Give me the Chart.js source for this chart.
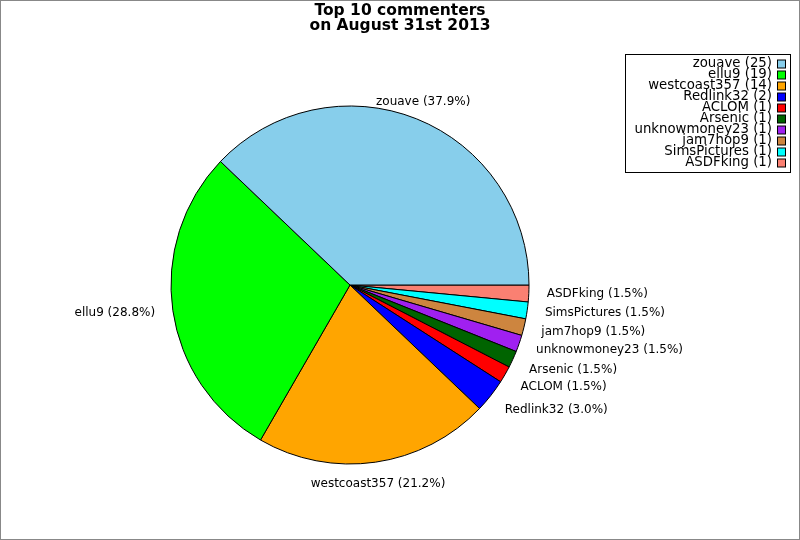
<!DOCTYPE html>
<html>
<head>
<meta charset="utf-8">
<title>Top 10 commenters</title>
<script src="https://cdn.jsdelivr.net/npm/chart.js@4/dist/chart.umd.min.js"></script>
<style>
  html, body { margin: 0; padding: 0; background: #fff; }
  #wrap { position: relative; width: 800px; height: 540px; }
</style>
</head>
<body>
<div id="wrap"><canvas id="pie"></canvas></div>
<script>
// ---- data (legend order) ----
const titleLines = ['Top 10 commenters', 'on August 31st 2013'];
const names = ['zouave', 'ellu9', 'westcoast357', 'Redlink32', 'ACLOM', 'Arsenic', 'unknowmoney23', 'jam7hop9', 'SimsPictures', 'ASDFking'];
const counts = [25, 19, 14, 2, 1, 1, 1, 1, 1, 1];
const colors = ['#87CEEB', '#00FF00', '#FFA500', '#0000FF', '#FF0000', '#006400', '#A020F0', '#CD853F', '#00FFFF', '#FA8072'];

const FONT = '"DejaVu Sans", Verdana, sans-serif';
const total = counts.reduce((s, v) => s + v, 0);

// chart.js draws clockwise, the reference goes counter-clockwise from 3 o'clock,
// so feed the slices reversed and start at 90deg
const revNames = names.slice().reverse();
const revCounts = counts.slice().reverse();
const revColors = colors.slice().reverse();

// white page + grey frame
const framePlugin = {
  id: 'frame',
  beforeDraw(chart){
    const ctx = chart.ctx;
    ctx.save();
    ctx.fillStyle = '#fff';
    ctx.fillRect(0, 0, chart.width, chart.height);
    ctx.restore();
  },
  afterDraw(chart){
    const ctx = chart.ctx;
    ctx.save();
    ctx.strokeStyle = '#888';
    ctx.lineWidth = 1;
    ctx.strokeRect(0.5, 0.5, chart.width - 1, chart.height - 1);
    ctx.restore();
  }
};

// title, centred on the whole figure
const titlePlugin = {
  id: 'figTitle',
  afterDraw(chart){
    const ctx = chart.ctx;
    ctx.save();
    ctx.fillStyle = '#000';
    ctx.font = 'bold 15.5px ' + FONT;
    ctx.textAlign = 'center';
    ctx.textBaseline = 'alphabetic';
    titleLines.forEach((t, i) => ctx.fillText(t, 400, 15 + i * 15));
    ctx.restore();
  }
};

// slice labels just outside the pie
const sliceLabels = {
  id: 'sliceLabels',
  afterDatasetsDraw(chart){
    const ctx = chart.ctx;
    const meta = chart.getDatasetMeta(0);
    ctx.save();
    ctx.fillStyle = '#000';
    ctx.font = '12px ' + FONT;
    ctx.textBaseline = 'middle';
    meta.data.forEach((arc, i) => {
      const a = (arc.startAngle + arc.endAngle) / 2;
      const r = arc.outerRadius * 1.1;
      const lx = arc.x + Math.cos(a) * r;
      let ly = arc.y + Math.sin(a) * r;
      if(Math.sin(a) > 0.35) ly += 3.5; // lower labels sit a bit further down
      const c = Math.cos(a);
      ctx.textAlign = c > 0.5 ? 'left' : (c < -0.5 ? 'right' : 'center');
      const pct = (revCounts[i] / total * 100).toFixed(1);
      ctx.fillText(`${chart.data.labels[i]} (${pct}%)`, lx, ly);
    });
    ctx.restore();
  }
};

// boxed legend, text right-aligned with the swatch on the right
const boxLegend = {
  id: 'boxLegend',
  afterDraw(chart){
    const ctx = chart.ctx;
    ctx.save();
    ctx.strokeStyle = '#000';
    ctx.lineWidth = 1;
    ctx.strokeRect(625.5, 54.5, 165, 118);
    ctx.font = '13.3px ' + FONT;
    ctx.textAlign = 'right';
    ctx.textBaseline = 'middle';
    names.forEach((n, i) => {
      const y = 64 + i * 11;
      ctx.fillStyle = '#000';
      ctx.fillText(`${n} (${counts[i]})`, 772, y);
      ctx.fillStyle = colors[i];
      ctx.fillRect(777.5, y - 4, 8, 8);
      ctx.strokeRect(777.5, y - 4, 8, 8);
    });
    ctx.restore();
  }
};

new Chart(document.getElementById('pie'), {
  type: 'pie',
  data: {
    labels: revNames,
    datasets: [{
      data: revCounts,
      backgroundColor: revColors,
      borderColor: '#000',
      borderWidth: 1
    }]
  },
  options: {
    responsive: true,
    maintainAspectRatio: false,
    devicePixelRatio: 1,
    animation: false,
    events: [],
    rotation: 90,
    radius: 179,
    layout: { padding: { left: 0, right: 100, top: 30, bottom: 0 } },
    plugins: {
      legend: { display: false },
      title: { display: false },
      tooltip: { enabled: false }
    }
  },
  plugins: [framePlugin, sliceLabels, titlePlugin, boxLegend]
});
</script>
</body>
</html>
